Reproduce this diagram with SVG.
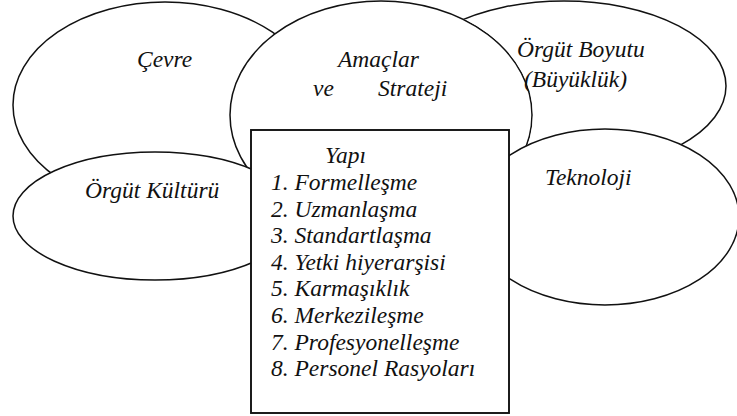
<svg xmlns="http://www.w3.org/2000/svg" width="737" height="416" viewBox="0 0 737 416">
  <style>
    .shape { fill: #ffffff; stroke: #111111; stroke-width: 1.5; }
    .box { fill: #ffffff; stroke: #111111; stroke-width: 1.9; }
    .label { font-family: "Liberation Serif", "Times New Roman", serif; font-style: italic; font-size: 23.5px; fill: #111111; }
  </style>
  <defs>
    <!-- hides the part of the size ellipse that lies under the goals ellipse -->
    <mask id="outsideGoals" maskUnits="userSpaceOnUse" x="0" y="0" width="737" height="416">
      <rect x="0" y="0" width="737" height="416" fill="#ffffff"/>
      <ellipse cx="381" cy="115" rx="152" ry="115" fill="#000000"/>
    </mask>
  </defs>

  <rect x="0" y="0" width="737" height="416" fill="#ffffff"/>

  <g id="cevre">
    <ellipse class="shape" cx="165" cy="105" rx="152" ry="103"/>
    <text class="label" x="137" y="67">Çevre</text>
  </g>

  <g id="amaclar-strateji">
    <ellipse class="shape" cx="381" cy="115" rx="151" ry="114"/>
    <text class="label" x="338" y="67">Amaçlar</text>
    <text class="label" x="313" y="96">ve</text>
    <text class="label" x="378" y="96">Strateji</text>
  </g>

  <g id="orgut-boyutu">
    <ellipse class="shape" cx="564" cy="86" rx="162" ry="85" mask="url(#outsideGoals)"/>
    <text class="label" x="517" y="57">Örgüt Boyutu</text>
    <text class="label" x="524" y="87">(Büyüklük)</text>
  </g>

  <g id="orgut-kulturu">
    <ellipse class="shape" cx="155" cy="216" rx="142" ry="64"/>
    <text class="label" x="85" y="198">Örgüt Kültürü</text>
  </g>

  <g id="teknoloji">
    <ellipse class="shape" cx="605" cy="217" rx="134" ry="88"/>
    <text class="label" x="545" y="185">Teknoloji</text>
  </g>

  <g id="yapi">
    <rect class="box" x="251" y="130" width="258" height="283"/>
    <text class="label" x="325" y="163">Yapı</text>
    <text class="label" x="271" y="190">1. Formelleşme</text>
    <text class="label" x="271" y="216.6">2. Uzmanlaşma</text>
    <text class="label" x="271" y="243.2">3. Standartlaşma</text>
    <text class="label" x="271" y="269.8">4. Yetki hiyerarşisi</text>
    <text class="label" x="271" y="296.4">5. Karmaşıklık</text>
    <text class="label" x="271" y="323">6. Merkezileşme</text>
    <text class="label" x="271" y="349.6">7. Profesyonelleşme</text>
    <text class="label" x="271" y="376.2">8. Personel Rasyoları</text>
  </g>

  <g id="connectors"/>
</svg>
